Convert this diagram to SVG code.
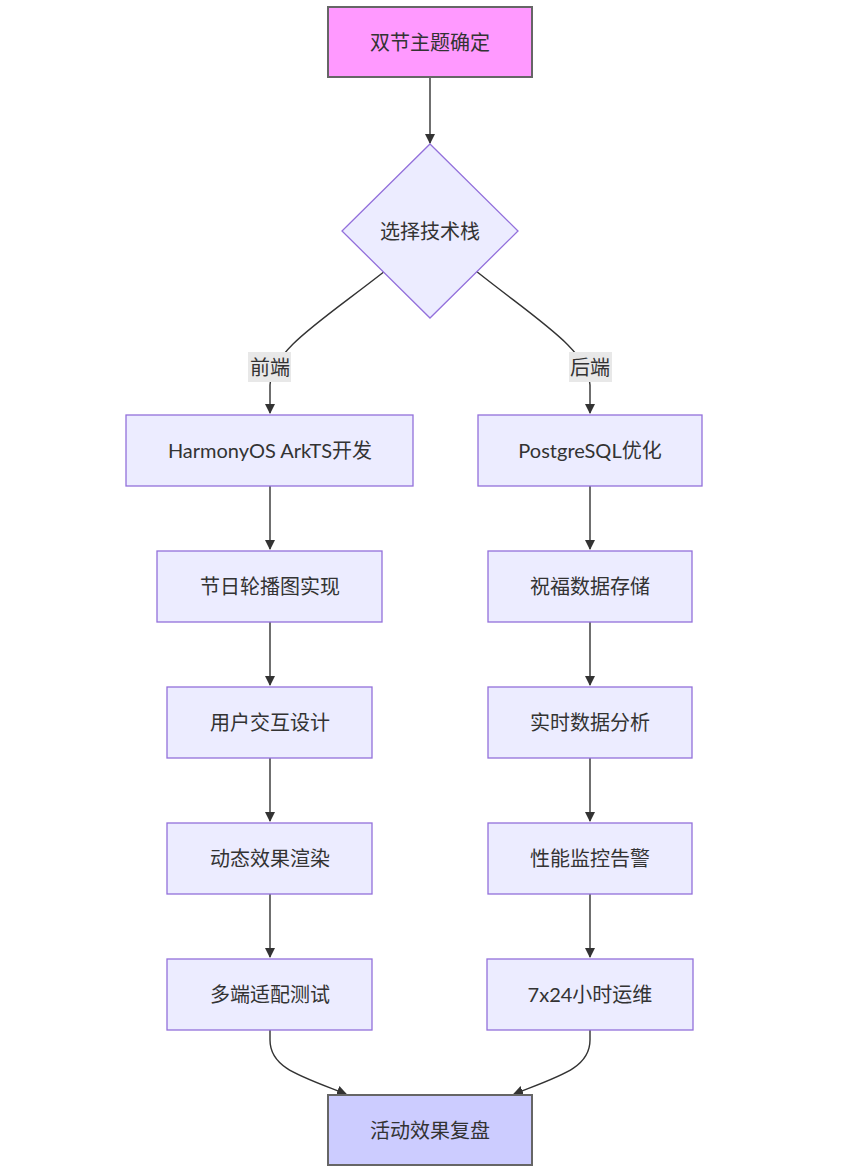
<svg xmlns="http://www.w3.org/2000/svg" width="861" height="1170" viewBox="0 0 861 1170">
<defs>
<marker id="arr" viewBox="0 0 10 10" refX="9" refY="5" markerWidth="10" markerHeight="10" markerUnits="userSpaceOnUse" orient="auto">
<path d="M0,0 L10,5 L0,10 z" fill="#333"/>
</marker>
<style>
.n{fill:#ECECFF;stroke:#9370DB;stroke-width:1.3}
.t{font-family:"Lato","Noto Sans CJK SC",sans-serif;font-size:20px;fill:#333;text-anchor:middle;dominant-baseline:central}
.e{fill:none;stroke:#333;stroke-width:1.4;marker-end:url(#arr)}
.lb{fill:#e8e8e8}
</style>
</defs>
<rect width="861" height="1170" fill="#fff"/>
<g id="edges">
<path class="e" d="M430,77 L430,143"/>
<path class="e" d="M385,271 C320,322 272,350 270,385 L270,413"/>
<path class="e" d="M476,271 C540,322 588,350 590,385 L590,413"/>
<path class="e" d="M270,486 L270,549"/>
<path class="e" d="M270,622 L270,685"/>
<path class="e" d="M270,758 L270,821"/>
<path class="e" d="M270,894 L270,957"/>
<path class="e" d="M590,486 L590,549"/>
<path class="e" d="M590,622 L590,685"/>
<path class="e" d="M590,758 L590,821"/>
<path class="e" d="M590,894 L590,957"/>
<path class="e" d="M270,1030 L270,1040 C270,1068 300,1076 346,1094"/>
<path class="e" d="M590,1030 L590,1040 C590,1068 560,1076 514,1094"/>
</g>
<g id="edge-labels">
<rect class="lb" x="248" y="352" width="43" height="30"/>
<text class="t" x="270" y="367">前端</text>
<rect class="lb" x="569" y="352" width="43" height="30"/>
<text class="t" x="590" y="367">后端</text>
</g>
<g id="A"><rect x="328" y="7" width="204" height="70" fill="#ff99ff" stroke="#666" stroke-width="2"/><text class="t" x="430" y="42">双节主题确定</text></g>
<g id="B"><polygon class="n" points="430,144 518,231 430,318 342,231"/><text class="t" x="430" y="231">选择技术栈</text></g>
<g id="C"><rect class="n" x="126" y="415" width="287" height="71"/><text class="t" x="270" y="450">HarmonyOS ArkTS开发</text></g>
<g id="D"><rect class="n" x="157" y="551" width="225" height="71"/><text class="t" x="270" y="586">节日轮播图实现</text></g>
<g id="E"><rect class="n" x="167" y="687" width="205" height="71"/><text class="t" x="270" y="722">用户交互设计</text></g>
<g id="F"><rect class="n" x="167" y="823" width="205" height="71"/><text class="t" x="270" y="858">动态效果渲染</text></g>
<g id="G"><rect class="n" x="167" y="959" width="205" height="71"/><text class="t" x="270" y="994">多端适配测试</text></g>
<g id="H"><rect class="n" x="478" y="415" width="224" height="71"/><text class="t" x="590" y="450">PostgreSQL优化</text></g>
<g id="I"><rect class="n" x="488" y="551" width="204" height="71"/><text class="t" x="590" y="586">祝福数据存储</text></g>
<g id="J"><rect class="n" x="488" y="687" width="204" height="71"/><text class="t" x="590" y="722">实时数据分析</text></g>
<g id="K"><rect class="n" x="488" y="823" width="204" height="71"/><text class="t" x="590" y="858">性能监控告警</text></g>
<g id="L"><rect class="n" x="487" y="959" width="206" height="71"/><text class="t" x="590" y="994">7x24小时运维</text></g>
<g id="M"><rect x="328" y="1095" width="204" height="70" fill="#ccccff" stroke="#666" stroke-width="2"/><text class="t" x="430" y="1130">活动效果复盘</text></g>
</svg>
